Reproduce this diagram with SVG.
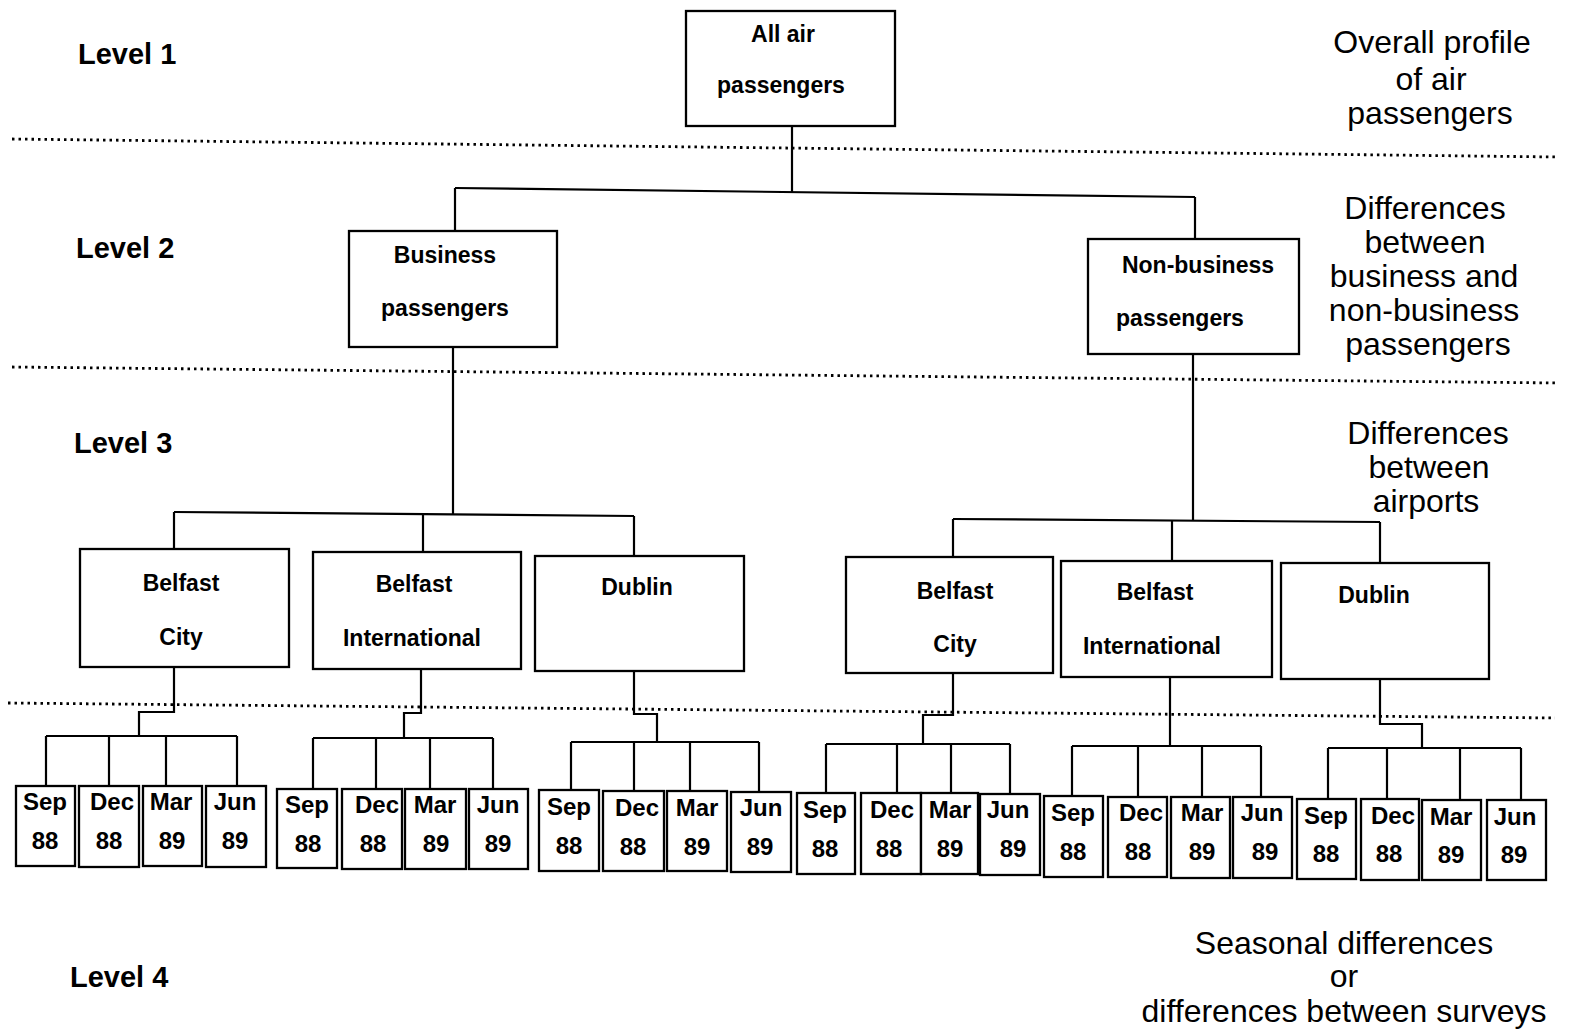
<svg xmlns="http://www.w3.org/2000/svg" width="1573" height="1036" viewBox="0 0 1573 1036">
  <style>
    .box { fill: #fff; stroke: #000; stroke-width: 2.3; }
    .link { fill: none; stroke: #000; stroke-width: 2.2; }
    .sep { fill: none; stroke: #000; stroke-width: 2.8; stroke-dasharray: 2.5 4; }
    .bt { font-family: "Liberation Sans", Arial, sans-serif; font-size: 23px; font-weight: bold; text-anchor: middle; fill: #000; }
    .mt { font-family: "Liberation Sans", Arial, sans-serif; font-size: 24px; font-weight: bold; text-anchor: middle; fill: #000; }
    .lv { font-family: "Liberation Sans", Arial, sans-serif; font-size: 29px; font-weight: bold; fill: #000; }
    .rt { font-family: "Liberation Sans", Arial, sans-serif; font-size: 32px; text-anchor: middle; fill: #000; }
  </style>

  <rect width="1573" height="1036" fill="#fff"/>

  <!-- level separators -->
  <g id="separators">
    <path class="sep" d="M12,139 L1558,157"/>
    <path class="sep" d="M12,367 L1558,383"/>
    <path class="sep" d="M8,703 L1555,718"/>
  </g>

  <!-- level labels on the left -->
  <g id="level-labels">
    <text class="lv" x="78" y="64">Level 1</text>
    <text class="lv" x="76" y="258">Level 2</text>
    <text class="lv" x="74" y="453">Level 3</text>
    <text class="lv" x="70" y="987">Level 4</text>
  </g>

  <!-- descriptions on the right -->
  <g id="level-descriptions">
    <text class="rt" x="1432" y="53">Overall profile</text>
    <text class="rt" x="1431" y="90">of air</text>
    <text class="rt" x="1430" y="124">passengers</text>

    <text class="rt" x="1425" y="219">Differences</text>
    <text class="rt" x="1425" y="253">between</text>
    <text class="rt" x="1424" y="287">business and</text>
    <text class="rt" x="1424" y="321">non-business</text>
    <text class="rt" x="1428" y="355">passengers</text>

    <text class="rt" x="1428" y="444">Differences</text>
    <text class="rt" x="1429" y="478">between</text>
    <text class="rt" x="1426" y="512">airports</text>

    <text class="rt" x="1344" y="954">Seasonal differences</text>
    <text class="rt" x="1344" y="987">or</text>
    <text class="rt" x="1344" y="1022">differences between surveys</text>
  </g>

  <!-- connectors -->
  <g id="connectors">
    <!-- level 1 to level 2 -->
    <path class="link" d="M792,126 V192"/>
    <path class="link" d="M455,188 L1195,197"/>
    <path class="link" d="M455,188 V231"/>
    <path class="link" d="M1195,197 V239"/>

    <!-- business to airports -->
    <path class="link" d="M453,347 V514"/>
    <path class="link" d="M174,512 L634,516"/>
    <path class="link" d="M174,512 V549"/>
    <path class="link" d="M423,514 V552"/>
    <path class="link" d="M634,516 V556"/>

    <!-- non-business to airports -->
    <path class="link" d="M1193,354 V521"/>
    <path class="link" d="M953,519 L1380,522"/>
    <path class="link" d="M953,519 V557"/>
    <path class="link" d="M1172,521 V561"/>
    <path class="link" d="M1380,522 V563"/>

    <!-- airports to survey periods -->
    <path class="link" d="M174,667 V712 H139 V736"/>
    <path class="link" d="M46,736 H237"/>
    <path class="link" d="M46,736 V786 M109,736 V786 M166,736 V786 M237,736 V786"/>

    <path class="link" d="M421,669 V713 H404 V738"/>
    <path class="link" d="M313,738 H493"/>
    <path class="link" d="M313,738 V789 M376,738 V789 M430,738 V789 M493,738 V789"/>

    <path class="link" d="M634,671 V714 H657 V742"/>
    <path class="link" d="M571,742 H759"/>
    <path class="link" d="M571,742 V790 M634,742 V791 M690,742 V791 M759,742 V792"/>

    <path class="link" d="M953,673 V715 H923 V744"/>
    <path class="link" d="M826,744 H1010"/>
    <path class="link" d="M826,744 V793 M897,744 V793 M951,744 V793 M1010,744 V794"/>

    <path class="link" d="M1170,677 V746"/>
    <path class="link" d="M1072,746 H1261"/>
    <path class="link" d="M1072,746 V796 M1138,746 V797 M1202,746 V797 M1261,746 V797"/>

    <path class="link" d="M1380,679 V724 H1422 V748"/>
    <path class="link" d="M1328,748 H1521"/>
    <path class="link" d="M1328,748 V799 M1387,748 V799 M1460,748 V800 M1521,748 V800"/>
  </g>

  <!-- level 1 -->
  <g id="all-air-passengers">
    <rect class="box" x="686" y="11" width="209" height="115"/>
    <text class="bt" x="783" y="42">All air</text>
    <text class="bt" x="781" y="93">passengers</text>
  </g>

  <!-- level 2 -->
  <g id="business">
    <rect class="box" x="349" y="231" width="208" height="116"/>
    <text class="bt" x="445" y="263">Business</text>
    <text class="bt" x="445" y="316">passengers</text>
  </g>
  <g id="non-business">
    <rect class="box" x="1088" y="239" width="211" height="115"/>
    <text class="bt" x="1198" y="273">Non-business</text>
    <text class="bt" x="1180" y="326">passengers</text>
  </g>

  <!-- level 3: business airports -->
  <g id="bus-belfast-city">
    <rect class="box" x="80" y="549" width="209" height="118"/>
    <text class="bt" x="181" y="591">Belfast</text>
    <text class="bt" x="181" y="645">City</text>
  </g>
  <g id="bus-belfast-international">
    <rect class="box" x="313" y="552" width="208" height="117"/>
    <text class="bt" x="414" y="592">Belfast</text>
    <text class="bt" x="412" y="646">International</text>
  </g>
  <g id="bus-dublin">
    <rect class="box" x="535" y="556" width="209" height="115"/>
    <text class="bt" x="637" y="595">Dublin</text>
  </g>

  <!-- level 3: non-business airports -->
  <g id="nonbus-belfast-city">
    <rect class="box" x="846" y="557" width="207" height="116"/>
    <text class="bt" x="955" y="599">Belfast</text>
    <text class="bt" x="955" y="652">City</text>
  </g>
  <g id="nonbus-belfast-international">
    <rect class="box" x="1061" y="561" width="211" height="116"/>
    <text class="bt" x="1155" y="600">Belfast</text>
    <text class="bt" x="1152" y="654">International</text>
  </g>
  <g id="nonbus-dublin">
    <rect class="box" x="1281" y="563" width="208" height="116"/>
    <text class="bt" x="1374" y="603">Dublin</text>
  </g>

  <!-- level 4: survey periods, business / Belfast City -->
  <g id="b-bc-sep88"><rect class="box" x="16" y="786" width="59" height="80"/><text class="mt" x="45" y="810">Sep</text><text class="mt" x="45" y="849">88</text></g>
  <g id="b-bc-dec88"><rect class="box" x="79" y="786" width="60" height="81"/><text class="mt" x="112" y="810">Dec</text><text class="mt" x="109" y="849">88</text></g>
  <g id="b-bc-mar89"><rect class="box" x="143" y="786" width="59" height="80"/><text class="mt" x="171" y="810">Mar</text><text class="mt" x="172" y="849">89</text></g>
  <g id="b-bc-jun89"><rect class="box" x="206" y="786" width="60" height="81"/><text class="mt" x="235" y="810">Jun</text><text class="mt" x="235" y="849">89</text></g>

  <!-- business / Belfast International -->
  <g id="b-bi-sep88"><rect class="box" x="277" y="789" width="60" height="79"/><text class="mt" x="307" y="813">Sep</text><text class="mt" x="308" y="852">88</text></g>
  <g id="b-bi-dec88"><rect class="box" x="342" y="789" width="60" height="80"/><text class="mt" x="377" y="813">Dec</text><text class="mt" x="373" y="852">88</text></g>
  <g id="b-bi-mar89"><rect class="box" x="405" y="789" width="61" height="80"/><text class="mt" x="435" y="813">Mar</text><text class="mt" x="436" y="852">89</text></g>
  <g id="b-bi-jun89"><rect class="box" x="469" y="789" width="59" height="80"/><text class="mt" x="498" y="813">Jun</text><text class="mt" x="498" y="852">89</text></g>

  <!-- business / Dublin -->
  <g id="b-d-sep88"><rect class="box" x="539" y="790" width="60" height="81"/><text class="mt" x="569" y="815">Sep</text><text class="mt" x="569" y="854">88</text></g>
  <g id="b-d-dec88"><rect class="box" x="603" y="791" width="61" height="80"/><text class="mt" x="637" y="816">Dec</text><text class="mt" x="633" y="855">88</text></g>
  <g id="b-d-mar89"><rect class="box" x="667" y="791" width="60" height="80"/><text class="mt" x="697" y="816">Mar</text><text class="mt" x="697" y="855">89</text></g>
  <g id="b-d-jun89"><rect class="box" x="731" y="792" width="60" height="80"/><text class="mt" x="761" y="816">Jun</text><text class="mt" x="760" y="855">89</text></g>

  <!-- non-business / Belfast City -->
  <g id="n-bc-sep88"><rect class="box" x="797" y="793" width="58" height="81"/><text class="mt" x="825" y="818">Sep</text><text class="mt" x="825" y="857">88</text></g>
  <g id="n-bc-dec88"><rect class="box" x="861" y="793" width="60" height="81"/><text class="mt" x="892" y="818">Dec</text><text class="mt" x="889" y="857">88</text></g>
  <g id="n-bc-mar89"><rect class="box" x="921" y="793" width="57" height="81"/><text class="mt" x="950" y="818">Mar</text><text class="mt" x="950" y="857">89</text></g>
  <g id="n-bc-jun89"><rect class="box" x="980" y="794" width="60" height="81"/><text class="mt" x="1008" y="818">Jun</text><text class="mt" x="1013" y="857">89</text></g>

  <!-- non-business / Belfast International -->
  <g id="n-bi-sep88"><rect class="box" x="1044" y="796" width="59" height="81"/><text class="mt" x="1073" y="821">Sep</text><text class="mt" x="1073" y="860">88</text></g>
  <g id="n-bi-dec88"><rect class="box" x="1108" y="797" width="59" height="80"/><text class="mt" x="1141" y="821">Dec</text><text class="mt" x="1138" y="860">88</text></g>
  <g id="n-bi-mar89"><rect class="box" x="1171" y="797" width="59" height="81"/><text class="mt" x="1202" y="821">Mar</text><text class="mt" x="1202" y="860">89</text></g>
  <g id="n-bi-jun89"><rect class="box" x="1233" y="797" width="59" height="81"/><text class="mt" x="1262" y="821">Jun</text><text class="mt" x="1265" y="860">89</text></g>

  <!-- non-business / Dublin -->
  <g id="n-d-sep88"><rect class="box" x="1297" y="799" width="59" height="80"/><text class="mt" x="1326" y="824">Sep</text><text class="mt" x="1326" y="862">88</text></g>
  <g id="n-d-dec88"><rect class="box" x="1361" y="799" width="58" height="81"/><text class="mt" x="1393" y="824">Dec</text><text class="mt" x="1389" y="862">88</text></g>
  <g id="n-d-mar89"><rect class="box" x="1422" y="800" width="59" height="80"/><text class="mt" x="1451" y="825">Mar</text><text class="mt" x="1451" y="863">89</text></g>
  <g id="n-d-jun89"><rect class="box" x="1487" y="800" width="59" height="80"/><text class="mt" x="1515" y="825">Jun</text><text class="mt" x="1514" y="863">89</text></g>
</svg>
